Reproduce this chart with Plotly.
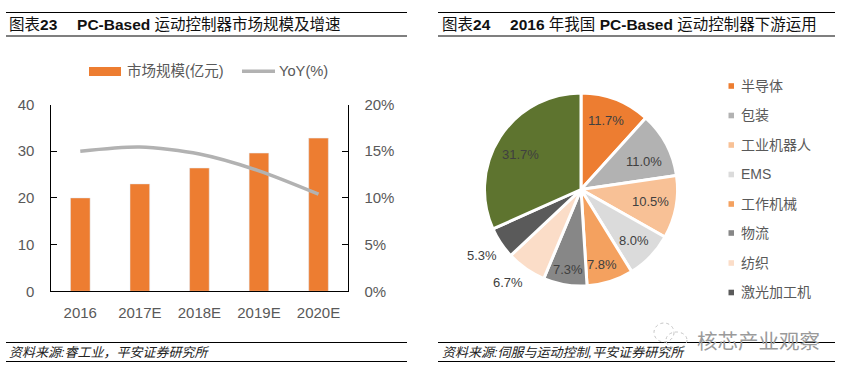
import plotly.graph_objects as go

W, H = 848, 376
LATIN = "Liberation Sans, Noto Sans CJK SC, sans-serif"
GREY = "#595959"

years = ["2016", "2017E", "2018E", "2019E", "2020E"]
market = [20.0, 23.0, 26.4, 29.6, 32.8]
yoy = [15.0, 15.45, 14.7, 12.9, 10.4]

pie_labels = ["半导体", "包装", "工业机器人", "EMS", "工作机械", "物流", "纺织", "激光加工机", "其他"]
pie_values = [11.7, 11.0, 10.5, 8.0, 7.8, 7.3, 6.7, 5.3, 31.7]
pie_colors = ["#ED7D31", "#B2B2B2", "#F8C196", "#DBDBDB", "#F4A15F", "#878787", "#FBDDC8", "#5A5A5A", "#5E742F"]
pie_text = [f"{v:.1f}%" for v in pie_values]
pie_label_xs = [605.7, 643.7, 650.3, 633.7, 601.7, 568.3, 507.7, 481.7, 520]
pie_label_ys = [120, 161.3, 201.3, 240.7, 264.7, 269.3, 282.3, 255.3, 154.3]

title_left = "图表<b>23</b>　 <b>PC-Based</b> 运动控制器市场规模及增速"
title_right = "图表<b>24</b>　 <b>2016</b> 年我国 <b>PC-Based</b> 运动控制器下游运用"
source_left = "<i>资料来源:睿工业，平安证券研究所</i>"
source_right = "<i>资料来源:伺服与运动控制,平安证券研究所</i>"
watermark = "核芯产业观察"
series_names = ["市场规模(亿元)", "YoY(%)"]


def px(x):
    return x / W


def py(y):
    return 1 - y / H


fig = go.Figure()
fig.add_trace(go.Bar(x=years, y=market, name=series_names[0], marker_color="#ED7D31",
                     xaxis="x", yaxis="y", showlegend=False))
fig.add_trace(go.Scatter(x=years, y=yoy, name=series_names[1], mode="lines", yaxis="y2", xaxis="x", showlegend=False,
                         line=dict(color="#B2B2B2", width=3.5, shape="spline", smoothing=0.8)))

cx, cy, r = 581, 189.5, 96.5
fig.add_trace(go.Pie(
    labels=pie_labels, values=pie_values, sort=False, direction="clockwise", rotation=0,
    marker=dict(colors=pie_colors, line=dict(color="#FFFFFF", width=3)),
    textinfo="none",
    showlegend=False, automargin=False,
    domain=dict(x=[px(cx - r), px(cx + r)], y=[py(cy + r), py(cy - r)]),
))

shapes = []
annotations = []


def hline(x0, x1, y):
    shapes.append(dict(type="line", xref="paper", yref="paper", x0=px(x0), x1=px(x1), y0=py(y), y1=py(y),
                       line=dict(color="#000000", width=1.2)))


for y in (12.5, 36, 342.5, 361.5):
    hline(6, 407, y)
    hline(438, 835, y)


def text(x, y, s, size, color="#000000", anchor="left"):
    annotations.append(dict(xref="paper", yref="paper", x=px(x), y=py(y), text=s, showarrow=False,
                            xanchor=anchor, yanchor="middle", borderpad=0,
                            font=dict(size=size, color=color, family=LATIN)))


text(8, 25, title_left, 15.5, "#111111")
text(441, 25, title_right, 15.5, "#111111")
text(8, 352.5, source_left, 13, "#222222")
text(441, 352.5, source_right, 13, "#222222")
text(696, 341, watermark, 20.5, "#9A9A9A")

for s, x, y in zip(pie_text, pie_label_xs, pie_label_ys):
    text(x, y, s, 13, "#404040", anchor="center")

# WeChat-style watermark icon
for x0, x1, y0, y1 in ((654, 674, 323, 342), (666, 687, 332, 348)):
    shapes.append(dict(type="circle", xref="paper", yref="paper", x0=px(x0), x1=px(x1), y0=py(y1), y1=py(y0),
                       line=dict(color="#C4C4C4", width=1, dash="dot")))

# chart 23 legend
shapes.append(dict(type="rect", xref="paper", yref="paper", x0=px(89), x1=px(121), y0=py(76), y1=py(67),
                   fillcolor="#ED7D31", line_width=0))
shapes.append(dict(type="line", xref="paper", yref="paper", x0=px(242), x1=px(275), y0=py(71.3), y1=py(71.3),
                   line=dict(color="#B2B2B2", width=3.5)))
text(125.5, 71, series_names[0], 14.5, GREY)
text(277.5, 71, series_names[1], 14.7, GREY)

# chart 24 legend
legend_ys = [86, 115.5, 145, 174.5, 204, 233, 263, 292.5]
for name, color, y in zip(pie_labels[:8], pie_colors[:8], legend_ys):
    shapes.append(dict(type="rect", xref="paper", yref="paper", x0=px(728.5), x1=px(734), y0=py(y + 2.8), y1=py(y - 2.8),
                       fillcolor=color, line_width=0))
    text(740, y - 0.5, name, 14, GREY)

axis_common = dict(showline=True, linecolor="#000000", linewidth=1.2, showgrid=False, zeroline=False,
                   tickcolor="#000000", tickwidth=1.2, ticklen=6, ticklabelstandoff=12,
                   tickfont=dict(size=15, color=GREY, family=LATIN))

fig.update_layout(
    width=W, height=H, autosize=False,
    margin=dict(l=0, r=0, t=0, b=0, autoexpand=False),
    paper_bgcolor="#FFFFFF", plot_bgcolor="#FFFFFF",
    bargap=0.67,
    font=dict(family=LATIN, color=GREY),
    showlegend=False,
    xaxis=dict(domain=[px(50.5), px(348.3)], anchor="y", showline=True, linecolor="#000000", linewidth=1.2,
               showgrid=False, ticks="", tickfont=dict(size=15, color=GREY, family=LATIN), ticklabelstandoff=8),
    yaxis=dict(domain=[py(291.3), py(104.5)], range=[0, 40], dtick=10, ticks="inside", anchor="x", **axis_common),
    yaxis2=dict(domain=[py(291.3), py(104.5)], range=[0, 20], dtick=5, ticks="inside", overlaying="y",
                side="right", anchor="x", ticksuffix="%", **axis_common),
    shapes=shapes, annotations=annotations,
)

fig.write_html("out.html", post_script="document.body.style.margin='0';document.body.style.overflow='hidden';",
               config=dict(displayModeBar=False))
